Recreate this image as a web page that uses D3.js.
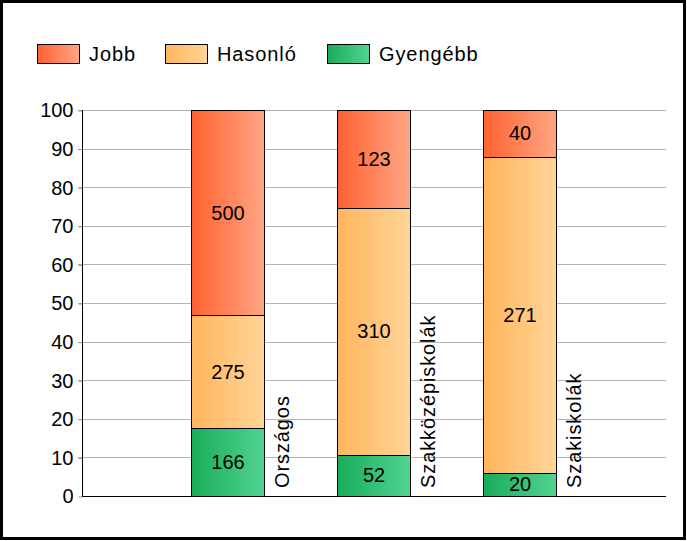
<!DOCTYPE html>
<html><head><meta charset="utf-8">
<script src="https://cdn.jsdelivr.net/npm/d3@7"></script>
<style>body{margin:0;background:#fff}svg{display:block}text{font-family:"Liberation Sans",Arial,sans-serif}</style>
</head><body><svg id="c" width="687" height="541"></svg>
<script>
const categories = ["Országos", "Szakközépiskolák", "Szakiskolák"];
const seriesNames = ["Gyengébb", "Hasonló", "Jobb"];
const gyengebb = [166, 52, 20];
const hasonlo = [275, 310, 271];
const jobb = [500, 123, 40];
const yTicks = [0,10,20,30,40,50,60,70,80,90,100];
const legendOrder = ["Jobb", "Hasonló", "Gyengébb"];

(function(){
const colors = {
  "Jobb": {c: ["#ff6230", "#ffa585"]},
  "Hasonló": {c: ["#ffb55c", "#ffd598"]},
  "Gyengébb": {c: ["#18ad5a", "#52d392"]}
};

const svg = d3.select("#c");
const defs = svg.append("defs");
Object.entries(colors).forEach(([k, o], i) => {
  const g = defs.append("linearGradient").attr("id", "g" + i).attr("x1", "0%").attr("x2", "100%").attr("y1", "0%").attr("y2", "0%");
  g.append("stop").attr("offset", "0%").attr("stop-color", o.c[0]);
  g.append("stop").attr("offset", "100%").attr("stop-color", o.c[1]);
  o.id = "url(#g" + i + ")";
});

svg.append("rect").attr("x", 1.5).attr("y", 1.5).attr("width", 683).attr("height", 537)
  .attr("fill", "#fff").attr("stroke", "#000").attr("stroke-width", 3);

const pL = 82, pR = 666, pT = 110, pB = 496;
const y = d3.scaleLinear().domain([0, 100]).range([pB, pT]);
const x = d3.scaleBand().domain(["", ...categories]).range([pL, pR]).paddingInner(0).paddingOuter(0);
const barW = 73;

svg.append("g").selectAll("line").data(yTicks.filter(d => d > 0)).join("line")
  .attr("x1", pL - 4).attr("x2", pR).attr("y1", d => Math.round(y(d)) + 0.5).attr("y2", d => Math.round(y(d)) + 0.5)
  .attr("stroke", "#b4b4b4").attr("stroke-width", 1);

const yAxis = d3.axisLeft(y).tickValues(yTicks).tickSize(4).tickPadding(5);
const ga = svg.append("g").attr("transform", `translate(${pL + 0.5},0.5)`).call(yAxis);
ga.select(".domain").remove();
ga.selectAll(".tick line").attr("stroke", "#909090");
ga.selectAll(".tick text").attr("font-size", 20).attr("fill", "#000").attr("font-family", '"Liberation Sans",Arial,sans-serif');
svg.append("line").attr("x1", pL + 0.5).attr("x2", pL + 0.5).attr("y1", pT).attr("y2", pB).attr("stroke", "#000");
svg.append("line").attr("x1", pL).attr("x2", pR).attr("y1", pB + 0.5).attr("y2", pB + 0.5).attr("stroke", "#000");

const data = categories.map((c, i) => {
  const vals = {"Gyengébb": gyengebb[i], "Hasonló": hasonlo[i], "Jobb": jobb[i]};
  const total = gyengebb[i] + hasonlo[i] + jobb[i];
  let acc = 0;
  return seriesNames.map(s => {
    const p = vals[s] / total * 100;
    const seg = {cat: c, s, v: vals[s], y0: acc, y1: acc + p};
    acc += p;
    return seg;
  });
}).flat();

const cx = c => x(c) - 1;
const segs = svg.append("g").selectAll("g").data(data).join("g");
segs.append("rect")
  .attr("x", d => Math.round(cx(d.cat) - barW / 2) + 0.5)
  .attr("width", barW)
  .attr("y", d => Math.round(y(d.y1)) + 0.5)
  .attr("height", d => Math.round(y(d.y0)) - Math.round(y(d.y1)))
  .attr("fill", d => colors[d.s].id).attr("stroke", "#000").attr("stroke-width", 1);
segs.append("text")
  .attr("x", d => cx(d.cat) + 1)
  .attr("y", d => (y(d.y0) + y(d.y1)) / 2)
  .attr("dy", "0.35em").attr("text-anchor", "middle").attr("font-size", 20).attr("fill", "#000")
  .text(d => d.v);

svg.append("g").selectAll("text").data(categories).join("text")
  .attr("transform", c => `translate(${cx(c) + barW / 2 + 25},488) rotate(-90)`)
  .attr("font-size", 20).attr("letter-spacing", 0.9).attr("fill", "#000").text(c => c);

const legX = [37, 165, 327];
const lg = svg.append("g").selectAll("g").data(legendOrder).join("g")
  .attr("transform", (d, i) => `translate(${legX[i]},44)`);
lg.append("rect").attr("x", 0.5).attr("y", 0.5).attr("width", 42).attr("height", 19)
  .attr("fill", d => colors[d].id).attr("stroke", "#000");
lg.append("text").attr("x", 52).attr("y", 17).attr("font-size", 20).attr("letter-spacing", 0.9).attr("fill", "#000").text(d => d);
})();
</script></body></html>
